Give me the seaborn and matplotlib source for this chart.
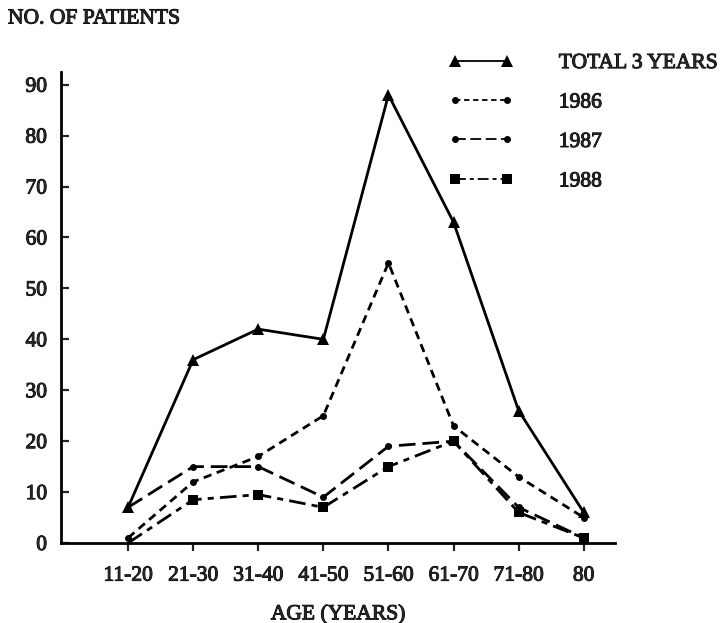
import matplotlib
matplotlib.use('Agg')
import matplotlib.pyplot as plt
import matplotlib.patheffects as pe
from matplotlib.lines import Line2D
import numpy as np
import pandas as pd
import seaborn as sns

age_groups = ['11-20', '21-30', '31-40', '41-50', '51-60', '61-70', '71-80', '80']
total_3_years = [7, 36, 42, 40, 88, 63, 26, 6]
year_1986 = [1, 12, 17, 25, 55, 23, 13, 5]
year_1987 = [7, 15, 15, 9, 19, 20, 7, 1]
year_1988 = [0, 8.5, 9.5, 7, 15, 20, 6, 1]
series_names = ['TOTAL 3 YEARS', '1986', '1987', '1988']
y_ticks = [0, 10, 20, 30, 40, 50, 60, 70, 80, 90]

df = pd.concat([
    pd.DataFrame({'age': age_groups, 'patients': vals, 'series': name})
    for name, vals in zip(series_names, [total_3_years, year_1986, year_1987, year_1988])
], ignore_index=True)

# Line look for each series: (marker, markersize, dashes, points that carry a marker)
styles = {
    'TOTAL 3 YEARS': ('^', 9, '', list(range(8))),
    '1986': ('o', 5, (3.0, 2.0), list(range(8))),
    '1987': ('o', 5, (6.0, 2.5), list(range(1, 8))),
    '1988': ('s', 7, (6.0, 2.2, 2.2, 2.2), list(range(1, 8))),
}

sns.set_style('ticks')
plt.rcParams['font.family'] = ['Liberation Serif', 'DejaVu Serif']
fs = 15.5
ink = [pe.withStroke(linewidth=0.7, foreground='black')]

fig = plt.figure(figsize=(7.26, 6.23), dpi=100)
ax = fig.add_axes([61 / 726, 1 - 543 / 623, (615 - 61) / 726, (543 - 72) / 623])

sns.lineplot(
    data=df, x='age', y='patients', style='series',
    style_order=series_names,
    markers={k: v[0] for k, v in styles.items()},
    dashes={k: v[2] for k, v in styles.items()},
    color='black', linewidth=2, markeredgewidth=0,
    sort=False, legend=False, ax=ax,
)
for line, name in zip(ax.lines, series_names):
    line.set_markersize(styles[name][1])
    line.set_markerfacecolor('black')
    line.set_markevery(styles[name][3])
    line.set_clip_on(False)

ax.set_xlim(-1.03, 7.48)
ax.set_ylim(0, 92.5)
ax.set_yticks(y_ticks)
ax.set_yticklabels([str(t) for t in y_ticks], fontsize=fs)
ax.tick_params(axis='x', direction='out', length=6, width=1.6, pad=11, labelsize=fs)
ax.tick_params(axis='y', direction='in', length=6, width=1.6, pad=10, labelsize=fs)
sns.despine(ax=ax)
for side in ['left', 'bottom']:
    ax.spines[side].set_linewidth(2)
    ax.spines[side].set_color('black')

ax.set_xlabel('AGE (YEARS)', fontsize=fs, labelpad=14)
ax.set_ylabel('')
title = fig.text(8 / 726, 1 - 19 / 623, 'NO. OF PATIENTS', fontsize=fs, va='center', ha='left')

handles = []
for n in series_names:
    h = Line2D([], [], color='black', linewidth=1.3, marker=styles[n][0],
               markersize=styles[n][1], markeredgewidth=0)
    if styles[n][2]:
        h.set_dashes(styles[n][2])
    handles.append(h)
leg = ax.legend(
    handles, series_names, loc='upper left',
    bbox_to_anchor=(449 / 726, 1 - 53 / 623), bbox_transform=fig.transFigure,
    frameon=False, fontsize=fs, numpoints=2, handlelength=3.0,
    handletextpad=2.1, labelspacing=0.9, borderpad=0, borderaxespad=0,
)

for t in ax.get_xticklabels() + ax.get_yticklabels() + leg.get_texts() + [ax.xaxis.label, title]:
    t.set_path_effects(ink)

fig.savefig('out.png', dpi=100)
